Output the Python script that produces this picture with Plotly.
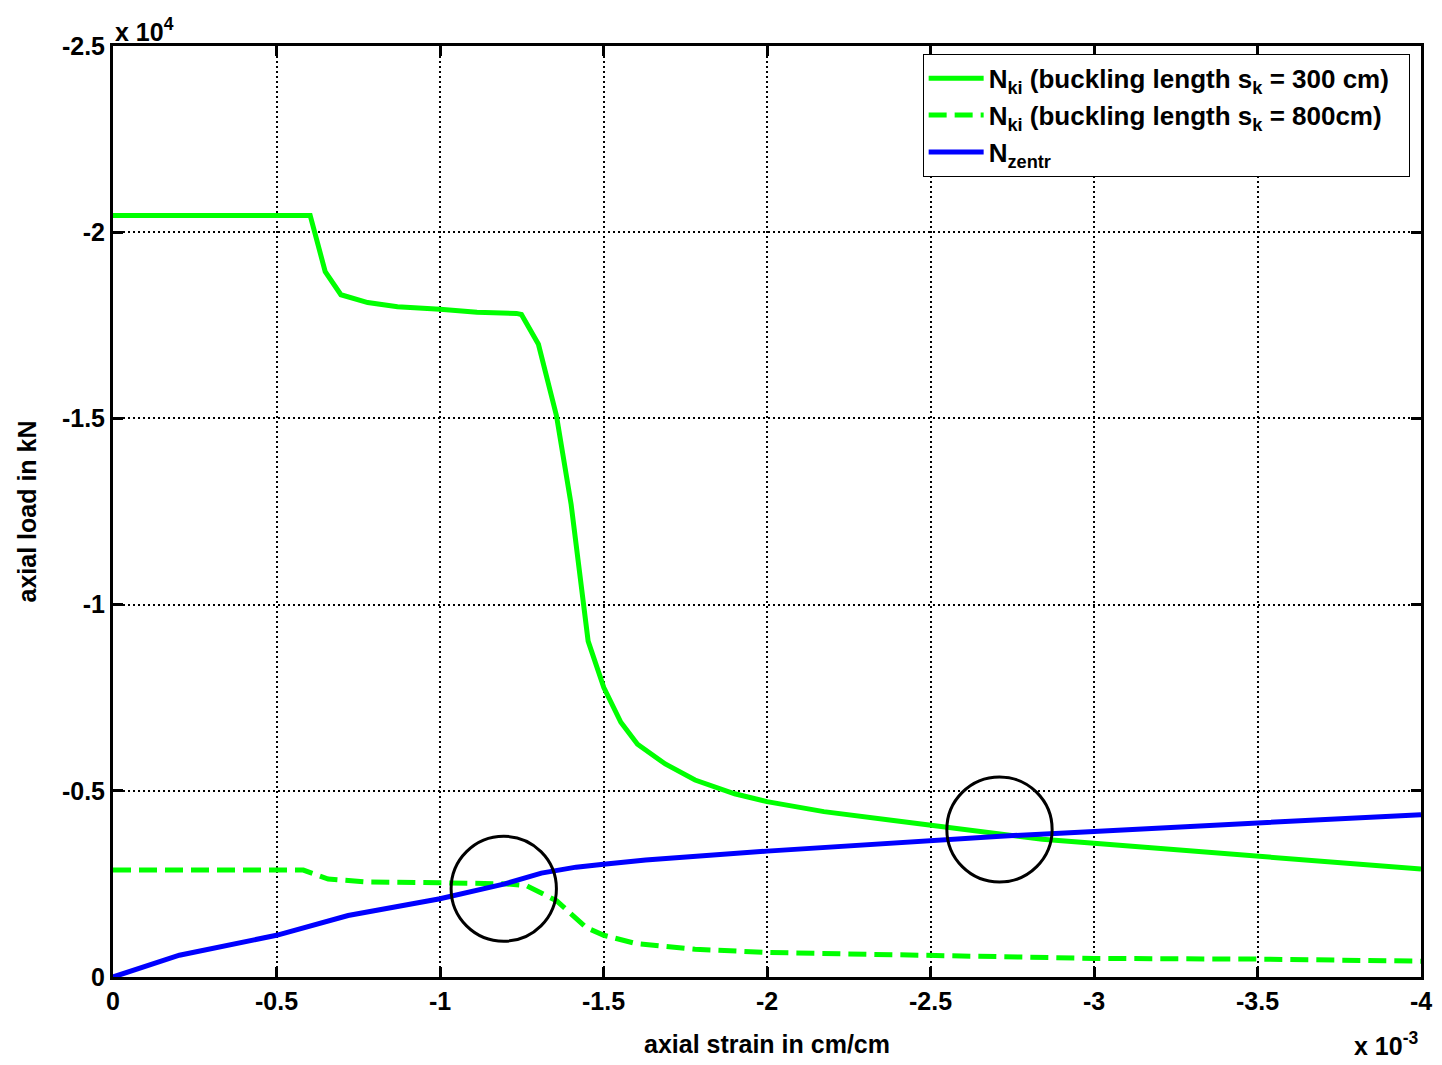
import plotly.graph_objects as go

# strain in units of 1e-3 cm/cm, load in kN
strain_ki300 = [0, -0.603, -0.649, -0.697, -0.779, -0.870, -1.0, -1.113, -1.234, -1.249, -1.301, -1.356,
                -1.401, -1.453, -1.501, -1.553, -1.604, -1.689, -1.780, -1.901, -2.0, -2.174, -2.387,
                -2.538, -2.714, -2.842, -3.0, -3.296, -3.503, -3.751, -4.0]
load_ki300 = [-20450, -20450, -18940, -18320, -18110, -18000, -17930, -17850, -17820, -17790, -16990, -15080,
              -12690, -9020, -7770, -6840, -6250, -5720, -5290, -4920, -4710, -4440, -4200,
              -4040, -3830, -3700, -3590, -3380, -3220, -3060, -2900]

strain_ki800 = [0, -0.582, -0.658, -0.779, -1.0, -1.204, -1.265, -1.356, -1.447, -1.501, -1.598, -1.78,
                -2.0, -2.387, -3.0, -3.5, -4.0]
load_ki800 = [-2870, -2870, -2630, -2550, -2530, -2500, -2450, -2050, -1330, -1120, -900, -745,
              -660, -585, -500, -480, -425]

strain_zentr = [0, -0.203, -0.5, -0.719, -1.0, -1.198, -1.310, -1.416, -1.5, -1.629, -2.0, -2.502,
                -2.714, -3.0, -3.5, -4.0]
load_zentr = [0, -585, -1120, -1650, -2100, -2500, -2790, -2950, -3030, -3140, -3380, -3670,
              -3780, -3910, -4150, -4360]

# highlighted intersections (center strain, center load, radius strain, radius load)
circle_cx = [-1.195, -2.711]
circle_cy = [-2370, -3960]
circle_rx = [0.161, 0.161]
circle_ry = [1410, 1410]

x_ticks = [0, -0.5, -1, -1.5, -2, -2.5, -3, -3.5, -4]
x_ticktext = ["0", "-0.5", "-1", "-1.5", "-2", "-2.5", "-3", "-3.5", "-4"]
y_ticks = [0, -5000, -10000, -15000, -20000, -25000]
y_ticktext = ["0", "-0.5", "-1", "-1.5", "-2", "-2.5"]

FONT = "Liberation Sans, Arial, sans-serif"
GREEN = "#00ff00"
BLUE = "#0000ff"
FS = 25

fig = go.Figure()
fig.add_trace(go.Scatter(x=strain_ki300, y=load_ki300, mode="lines",
                         line=dict(color=GREEN, width=5),
                         name="N<sub>ki</sub> (buckling length s<sub>k</sub> = 300 cm)&nbsp;&nbsp;"))
fig.add_trace(go.Scatter(x=strain_ki800, y=load_ki800, mode="lines",
                         line=dict(color=GREEN, width=5, dash="18px,8px"),
                         name="N<sub>ki</sub> (buckling length s<sub>k</sub> = 800cm)"))
fig.add_trace(go.Scatter(x=strain_zentr, y=load_zentr, mode="lines",
                         line=dict(color=BLUE, width=5),
                         name="N<sub>zentr</sub>"))

for cx, cy, rx, ry in zip(circle_cx, circle_cy, circle_rx, circle_ry):
    fig.add_shape(type="circle", xref="x", yref="y",
                  x0=cx - rx, x1=cx + rx, y0=cy - ry, y1=cy + ry,
                  line=dict(color="black", width=3))

axis_common = dict(
    showline=True, linecolor="black", linewidth=3, mirror="ticks",
    ticks="inside", ticklen=10, tickwidth=3, tickcolor="black",
    showgrid=True, gridcolor="black", gridwidth=2, griddash="2px,3px",
    zeroline=False, ticklabeloverflow="allow",
    tickfont=dict(family=FONT, size=FS, color="black", weight="bold"),
)

fig.update_xaxes(range=[0, -4], tickvals=x_ticks, ticktext=x_ticktext,
                 title=dict(text="axial strain in cm/cm", standoff=22,
                            font=dict(family=FONT, size=FS, color="black", weight="bold")),
                 **axis_common)
fig.update_yaxes(range=[0, -25000], tickvals=y_ticks, ticktext=y_ticktext,
                 title=dict(text="axial load in kN", standoff=19,
                            font=dict(family=FONT, size=FS, color="black", weight="bold")),
                 **axis_common)

fig.add_annotation(xref="paper", yref="paper", x=0, y=1, xanchor="left", yanchor="bottom",
                   text="x 10<sup>4</sup>", showarrow=False, yshift=-2,
                   font=dict(family=FONT, size=FS, color="black", weight="bold"))
fig.add_annotation(xref="paper", yref="paper", x=1, y=-0.072, xanchor="right", yanchor="middle",
                   text="x 10<sup>-3</sup>", showarrow=False,
                   font=dict(family=FONT, size=FS, color="black", weight="bold"))

fig.update_layout(
    width=1442, height=1065,
    margin=dict(l=113, r=10, t=46, b=74),
    paper_bgcolor="white", plot_bgcolor="white",
    showlegend=True,
    legend=dict(x=0.619, y=0.9915, xanchor="left", yanchor="top",
                bgcolor="white", bordercolor="black", borderwidth=1,
                font=dict(family=FONT, size=26, color="black", weight="bold"),
                tracegroupgap=0, itemwidth=55),
)

fig.write_html(
    "out.html",
    config={"displayModeBar": False},
    post_script=("document.documentElement.style.overflow='hidden';"
                 "document.body.style.margin='0';document.body.style.overflow='hidden';"),
)
